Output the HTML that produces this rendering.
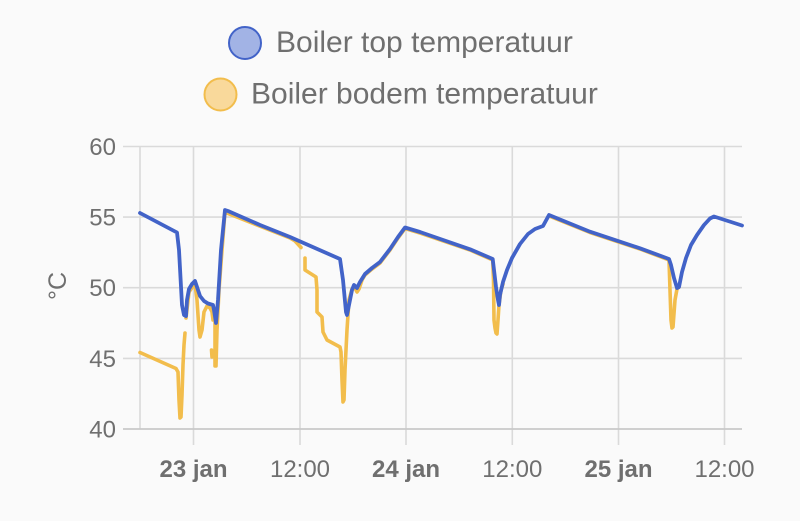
<!DOCTYPE html>
<html>
<head>
<meta charset="utf-8">
<style>
  html, body { margin: 0; padding: 0; background: #fafafa; }
  body { width: 800px; height: 521px; overflow: hidden; }
  svg { display: block; }
  text { font-family: "Liberation Sans", Arial, sans-serif; fill: #6f6f6f; }
</style>
</head>
<body>
<svg width="800" height="521" viewBox="0 0 800 521" xmlns="http://www.w3.org/2000/svg">
  <rect x="0" y="0" width="800" height="521" fill="#fafafa"/>

  <!-- Legend -->
  <circle cx="245" cy="43" r="16" fill="#a2b3e5" stroke="#4263c8" stroke-width="2"/>
  <text x="276" y="52" font-size="30">Boiler top temperatuur</text>
  <circle cx="220.5" cy="94.5" r="16" fill="#f9d99b" stroke="#f2bd4c" stroke-width="2"/>
  <text x="251" y="103.5" font-size="30">Boiler bodem temperatuur</text>

  <!-- Horizontal gridlines -->
  <g stroke="#dadada" stroke-width="1.6">
    <line x1="123" y1="146.5" x2="742" y2="146.5"/>
    <line x1="123" y1="217.1" x2="742" y2="217.1"/>
    <line x1="123" y1="287.7" x2="742" y2="287.7"/>
    <line x1="123" y1="358.4" x2="742" y2="358.4"/>
  </g>
  <!-- Vertical gridlines -->
  <g stroke="#dadada" stroke-width="1.6">
    <line x1="140" y1="146.5" x2="140" y2="429"/>
    <line x1="193.5" y1="146.5" x2="193.5" y2="445"/>
    <line x1="300" y1="146.5" x2="300" y2="445"/>
    <line x1="406" y1="146.5" x2="406" y2="445"/>
    <line x1="512.3" y1="146.5" x2="512.3" y2="445"/>
    <line x1="618.5" y1="146.5" x2="618.5" y2="445"/>
    <line x1="724.5" y1="146.5" x2="724.5" y2="445"/>
  </g>
  <line x1="123" y1="429" x2="742" y2="429" stroke="#c9c9c9" stroke-width="1.8"/>

  <!-- Y axis labels -->
  <g font-size="24" text-anchor="end">
    <text x="116" y="155">60</text>
    <text x="116" y="225.6">55</text>
    <text x="116" y="296.2">50</text>
    <text x="116" y="366.9">45</text>
    <text x="116" y="437.5">40</text>
  </g>
  <text font-size="25" text-anchor="middle" transform="translate(66,286) rotate(-90)">°C</text>

  <!-- X axis labels -->
  <g font-size="24" text-anchor="middle">
    <text x="193.5" y="477" font-weight="bold">23 jan</text>
    <text x="300" y="477">12:00</text>
    <text x="406" y="477" font-weight="bold">24 jan</text>
    <text x="512.3" y="477">12:00</text>
    <text x="618.5" y="477" font-weight="bold">25 jan</text>
    <text x="724.5" y="477">12:00</text>
  </g>

  <!-- Yellow series: Boiler bodem temperatuur -->
  <path fill="none" stroke="#f2bd4c" stroke-width="3.6" stroke-linejoin="round" stroke-linecap="round"
    d="M140,352.5 L176,368.5 L178,372 L179,400 L180,418 L181,417 L182,395 L183,365 L184,345 L185,333
       M186,318 L189,292 L193,286 L195,284 L197,300 L199,330 L200,337 L202,330 L204,312 L207,306 L210,308 L212,312 L213,320
       M211.5,350 L212,357
       M215,322 L215,366 L216,366 L217,330 L219,290 L222,250 L225,212 L228,213.5 L290,238 L295,241 L301,247.5
       M305,258 L305,270 L316,277 L317,290 L317,312 L322,317 L323,332 L327,340 L340,347 L341,352 L342,380 L343,402 L344,400 L345,370 L347,330 L349,300 L352,289 L355,288 L357,292 L359,289 L362,280 L365,275 L372,269 L380,263 L390,250 L398,238 L405,228.5 L420,233 L470,250 L492.7,260
       L493.5,280 L494,320 L495,328 L496,333 L497,334 L498,320 L499,305 L501,290 L503,284
       M549,216 L590,232.5 L640,249 L669,260 L670,290 L671,320 L672,328 L673,327 L675,300 L677,289 L679,287"/>

  <!-- Blue series: Boiler top temperatuur -->
  <path fill="none" stroke="#4263c8" stroke-width="3.8" stroke-linejoin="round" stroke-linecap="round"
    d="M140,213 L177,232.5 L179,250 L182,305 L184,315 L186,316 L187,300 L189,289 L192,284 L195,281 L197,287 L200,296 L204,301 L208,303.5 L213,305 L214,310 L216,323 L218,300 L221,250 L225,210 L228,211 L260,225 L290,237 L340,259 L343,280 L346,312 L347,315 L349,305 L352,290 L354,285 L357,288 L360,282 L365,274 L372,268 L380,262 L390,249 L398,237 L405,227.5 L420,232 L470,249.3 L492.7,259 L494,270 L496,287 L498,300 L499,305 L500,295 L503,282 L507,270 L512,258 L520,244 L528,234 L535,229 L543,226 L549,215 L590,231.7 L640,248.3 L669,259 L671,265 L674,278 L677,288 L679,287 L682,272 L686,258 L691,245 L697,235 L704,225 L710,218.5 L714,216.5 L742,225.5"/>
</svg>
</body>
</html>
